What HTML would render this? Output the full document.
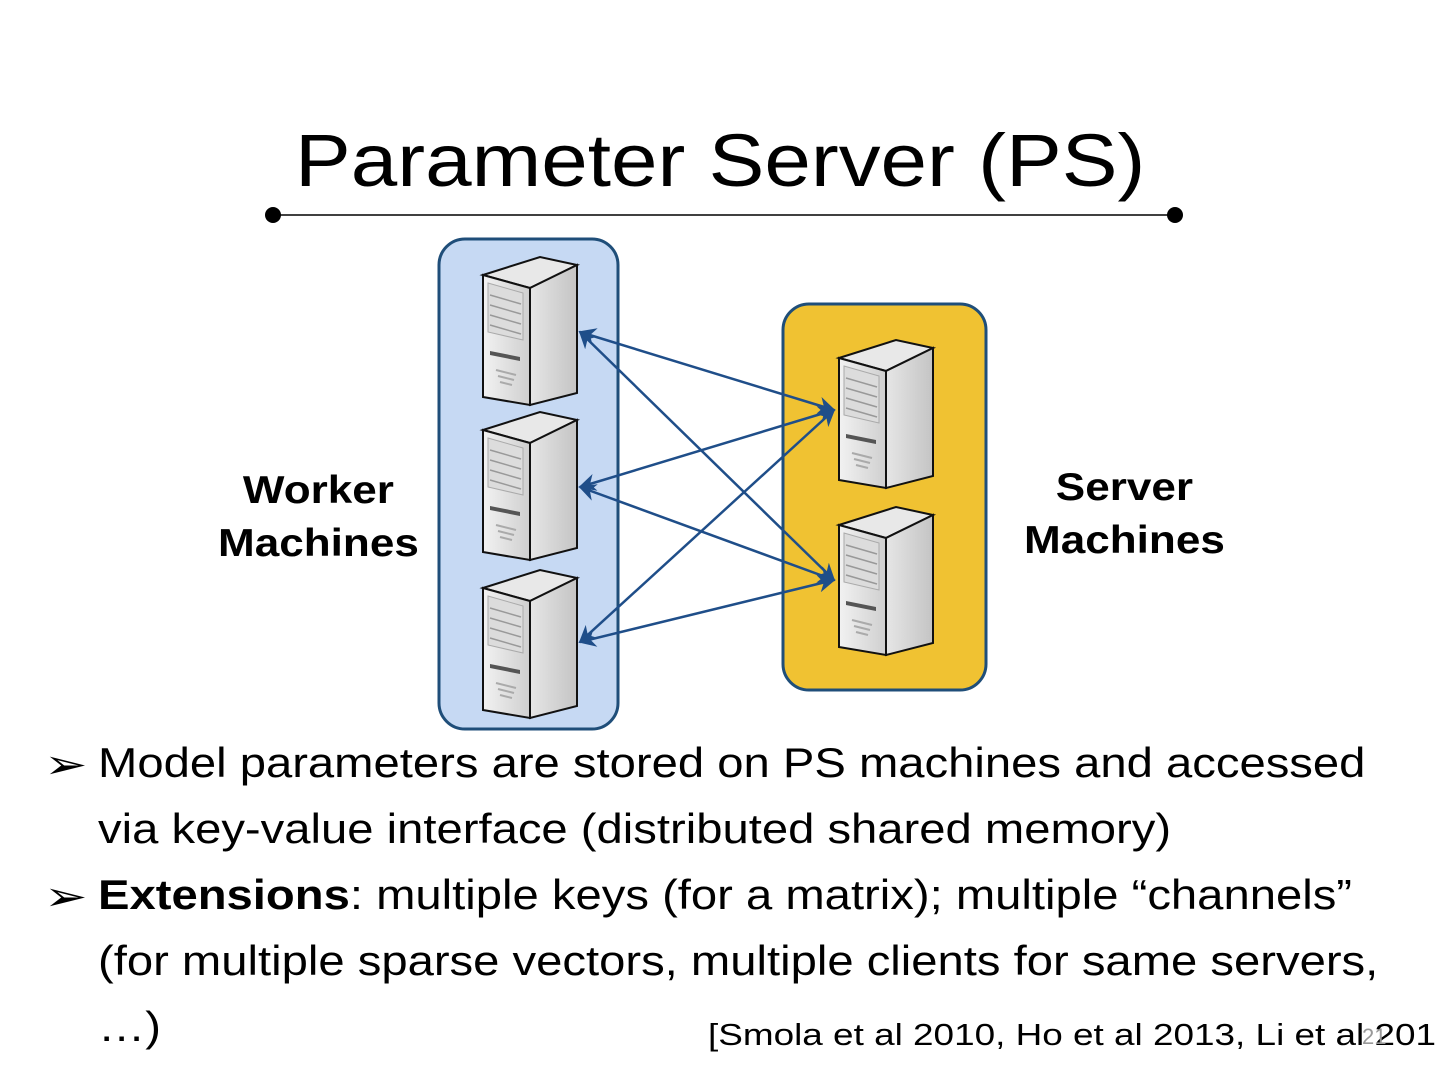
<!DOCTYPE html>
<html><head><meta charset="utf-8"><style>
body{margin:0;width:1440px;height:1080px;background:#fff;position:relative;overflow:hidden;font-family:"Liberation Sans",sans-serif;color:#000}
.t{position:absolute;white-space:nowrap;transform-origin:0 0}
</style></head><body>
<svg width="1440" height="1080" style="position:absolute;left:0;top:0">
<defs>
<linearGradient id="fg" x1="0" x2="1"><stop offset="0" stop-color="#f2f2f2"/><stop offset="1" stop-color="#cfcfcf"/></linearGradient>
<linearGradient id="sg" x1="0" x2="1"><stop offset="0" stop-color="#e6e6e6"/><stop offset="1" stop-color="#c4c4c4"/></linearGradient>
<symbol id="srv" overflow="visible">
<polygon points="5,20 62,2 99,10 52,33" fill="#e8e8e8" stroke="#111" stroke-width="2"/>
<polygon points="52,33 99,10 99,138 52,150" fill="url(#sg)" stroke="#111" stroke-width="2"/>
<polygon points="5,20 52,33 52,150 5,142" fill="url(#fg)" stroke="#111" stroke-width="2"/>
<polygon points="10,28 45,38 45,85 10,77" fill="#dcdcdc" stroke="#aaa"/>
<g stroke="#999" stroke-width="1.5"><line x1="12" y1="40" x2="43" y2="49"/><line x1="12" y1="50" x2="43" y2="59"/><line x1="12" y1="60" x2="43" y2="69"/><line x1="12" y1="70" x2="43" y2="79"/></g>
<polygon points="12,96 42,102 42,106 12,100" fill="#555"/>
<g stroke="#aaa" stroke-width="2"><line x1="18" y1="115" x2="38" y2="120"/><line x1="20" y1="121" x2="36" y2="125"/><line x1="22" y1="127" x2="34" y2="130"/></g>
</symbol>
<marker id="ah" viewBox="0 0 10 10" refX="9" refY="5" markerWidth="7" markerHeight="7" orient="auto-start-reverse"><path d="M0,0 L10,5 L0,10 L3,5z" fill="#1f4e89"/></marker>
</defs>
<line x1="273" y1="215" x2="1175" y2="215" stroke="#000" stroke-width="1.5"/>
<circle cx="273" cy="215" r="8"/><circle cx="1175" cy="215" r="8"/>
<rect x="439" y="239" width="179" height="490" rx="26" fill="#c6d9f3" stroke="#1f4e79" stroke-width="3"/>
<rect x="783" y="304" width="203" height="386" rx="26" fill="#f0c232" stroke="#1f4e79" stroke-width="3"/>
<use href="#srv" x="478" y="255"/>
<use href="#srv" x="478" y="410"/>
<use href="#srv" x="478" y="568"/>
<use href="#srv" x="834" y="338"/>
<use href="#srv" x="834" y="505"/>
<g stroke="#1f4e89" stroke-width="2.5" marker-start="url(#ah)" marker-end="url(#ah)">
<line x1="580" y1="332" x2="834" y2="410"/>
<line x1="580" y1="332" x2="834" y2="580"/>
<line x1="580" y1="487" x2="834" y2="410"/>
<line x1="580" y1="487" x2="834" y2="580"/>
<line x1="580" y1="642" x2="834" y2="410"/>
<line x1="580" y1="642" x2="834" y2="580"/>
</g>
</svg>
<div class="t" style="left:295px;top:116px;font-size:74px;line-height:90px;transform:scaleX(1.13)">Parameter Server (PS)</div>
<div class="t" style="left:218px;top:464px;font-size:39px;line-height:53px;font-weight:bold;text-align:center;transform:scaleX(1.13)">Worker<br>Machines</div>
<div class="t" style="left:1024px;top:461px;font-size:39px;line-height:53px;font-weight:bold;text-align:center;transform:scaleX(1.13)">Server<br>Machines</div>
<div class="t" style="left:44px;top:732px;font-size:40px;line-height:66px;transform:scaleX(1.3)">➢</div>
<div class="t" style="left:98px;top:730px;font-size:42px;line-height:66px;transform:scaleX(1.124)">Model parameters are stored on PS machines and accessed<br>via key-value interface (distributed shared memory)</div>
<div class="t" style="left:44px;top:864px;font-size:40px;line-height:66px;transform:scaleX(1.3)">➢</div>
<div class="t" style="left:98px;top:862px;font-size:42px;line-height:66px;transform:scaleX(1.124)"><b>Extensions</b>: multiple keys (for a matrix); multiple “channels”<br>(for multiple sparse vectors, multiple clients for same servers,<br>…)</div>
<div class="t" style="left:708px;top:1015px;font-size:31px;line-height:40px;transform:scaleX(1.19)">[Smola et al 2010, Ho et al 2013, Li et al 201</div>
<div class="t" style="left:1362px;top:1024px;font-size:22px;color:#999">21</div>
</body></html>
